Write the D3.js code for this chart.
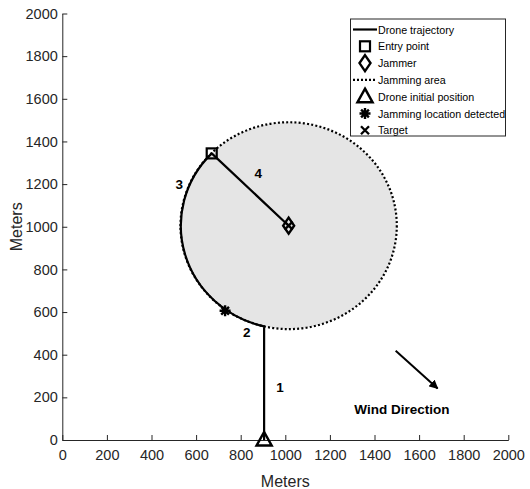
<!DOCTYPE html>
<html>
<head>
<meta charset="utf-8">
<script src="https://cdn.jsdelivr.net/npm/d3@7"></script>
<style>
  body { margin: 0; background: #fff; }
  svg { display: block; }
  text { font-family: "Liberation Sans", Arial, Helvetica, sans-serif; }
</style>
</head>
<body>
<svg id="chart" width="530" height="489"></svg>
<script>
// Axis ticks (meters)
const xTicks = [0, 200, 400, 600, 800, 1000, 1200, 1400, 1600, 1800, 2000];
const yTicks = [0, 200, 400, 600, 800, 1000, 1200, 1400, 1600, 1800, 2000];

// Scenario positions (meters)
const droneStart = [905, 0];
const jammerPos = [1015, 1005];
const targetPos = [1015, 1005];
const jamRadius = 485;
const entryPoint = [670, 1344];
const detectPoint = [730, 606];

// Segment numbers along the trajectory
const segmentLabels = [
  { text: "1", x: 976, y: 244 },
  { text: "2", x: 827, y: 503 },
  { text: "3", x: 525, y: 1199 },
  { text: "4", x: 879, y: 1250 }
];

// Wind arrow
const windFrom = [1495, 419];
const windTo = [1683, 242];
const windText = { text: "Wind Direction", x: 1523, y: 145 };

// Legend entries
const legendNames = [
  "Drone trajectory", "Entry point", "Jammer", "Jamming area",
  "Drone initial position", "Jamming location detected", "Target"
];
const legendKinds = ["line", "square", "diamond", "dotted", "triangle", "asterisk", "cross"];

const svg = d3.select("#chart");
const x = d3.scaleLinear().domain([0, 2000]).range([62.3, 508.3]);
const y = d3.scaleLinear().domain([0, 2000]).range([440, 13.5]);
const axisColor = "#262626";

// Jamming area (circle in meters, ellipse on screen)
const rx = x(jammerPos[0] + jamRadius) - x(jammerPos[0]);
const ry = y(jammerPos[1]) - y(jammerPos[1] + jamRadius);
svg.append("ellipse")
  .attr("cx", x(jammerPos[0])).attr("cy", y(jammerPos[1]))
  .attr("rx", rx).attr("ry", ry)
  .attr("fill", "#e5e5e5").attr("stroke", "none");
svg.append("ellipse")
  .attr("cx", x(jammerPos[0])).attr("cy", y(jammerPos[1]))
  .attr("rx", rx).attr("ry", ry)
  .attr("fill", "none").attr("stroke", "#000")
  .attr("stroke-width", 2.2).attr("stroke-dasharray", "2,2.2");

// Axes
const fmt = d3.format("d");
const xAxis = d3.axisBottom(x).tickValues(xTicks).tickFormat(fmt)
  .tickSizeInner(-5).tickSizeOuter(0).tickPadding(10);
const yAxis = d3.axisLeft(y).tickValues(yTicks).tickFormat(fmt)
  .tickSizeInner(-5).tickSizeOuter(0).tickPadding(4.5);
const gx = svg.append("g").attr("transform", `translate(0,${y(0)})`).call(xAxis);
const gy = svg.append("g").attr("transform", `translate(${x(0)},0)`).call(yAxis);
[gx, gy].forEach(g => {
  g.selectAll("path, line").attr("stroke", axisColor);
  g.selectAll("text").attr("fill", axisColor).style("font-size", "14.5px");
});

svg.append("text")
  .attr("x", (x(0) + x(2000)) / 2).attr("y", 481)
  .attr("text-anchor", "middle").attr("dominant-baseline", "central")
  .attr("fill", axisColor).style("font-size", "16px").text("Meters");
svg.append("text")
  .attr("transform", `translate(16,${(y(0) + y(2000)) / 2}) rotate(-90)`)
  .attr("text-anchor", "middle").attr("dominant-baseline", "central")
  .attr("fill", axisColor).style("font-size", "16px").text("Meters");

// Drone trajectory: climb to the area edge, follow the edge, then head to the jammer
const dxEdge = droneStart[0] - jammerPos[0];
const edgeY = jammerPos[1] - Math.sqrt(jamRadius * jamRadius - dxEdge * dxEdge);
const traj = d3.path();
traj.moveTo(x(droneStart[0]), y(droneStart[1]));
traj.lineTo(x(droneStart[0]), y(edgeY));
const trajD = traj.toString() +
  `A${rx},${ry} 0 0 1 ${x(entryPoint[0])},${y(entryPoint[1])}` +
  `L${x(jammerPos[0])},${y(jammerPos[1])}`;
svg.append("path").attr("d", trajD)
  .attr("fill", "none").attr("stroke", "#000").attr("stroke-width", 2.2)
  .attr("stroke-linejoin", "round");

// Marker drawing helpers
function drawMarker(g, kind, cx, cy) {
  const s = { fill: "none", stroke: "#000", "stroke-width": 2.2 };
  const apply = (el, o) => { Object.entries(o).forEach(([k, v]) => el.attr(k, v)); return el; };
  if (kind === "square") {
    apply(g.append("rect").attr("x", cx - 5).attr("y", cy - 5).attr("width", 10).attr("height", 10), s);
  } else if (kind === "diamond") {
    apply(g.append("path").attr("d", `M${cx},${cy - 8}L${cx + 5.5},${cy}L${cx},${cy + 8}L${cx - 5.5},${cy}Z`), s)
      .attr("stroke-width", 2.4);
  } else if (kind === "triangle") {
    apply(g.append("path").attr("d", `M${cx},${cy - 8}L${cx + 7.5},${cy + 5.5}L${cx - 7.5},${cy + 5.5}Z`), s)
      .attr("stroke-width", 2.5);
  } else if (kind === "asterisk") {
    const r = 5.5;
    const d = [0, 45, 90, 135].map(a => {
      const t = a * Math.PI / 180;
      return `M${cx - r * Math.cos(t)},${cy - r * Math.sin(t)}L${cx + r * Math.cos(t)},${cy + r * Math.sin(t)}`;
    }).join("");
    apply(g.append("path").attr("d", d), s).attr("stroke-width", 2.4);
  } else if (kind === "cross") {
    const r = 4;
    apply(g.append("path").attr("d", `M${cx - r},${cy - r}L${cx + r},${cy + r}M${cx - r},${cy + r}L${cx + r},${cy - r}`), s)
      .attr("stroke-width", 2.3);
  } else if (kind === "line") {
    apply(g.append("line").attr("x1", cx - 12).attr("x2", cx + 12).attr("y1", cy).attr("y2", cy), s);
  } else if (kind === "dotted") {
    apply(g.append("line").attr("x1", cx - 12).attr("x2", cx + 12).attr("y1", cy).attr("y2", cy), s)
      .attr("stroke-dasharray", "2,2");
  }
}

const marks = svg.append("g");
drawMarker(marks, "square", x(entryPoint[0]), y(entryPoint[1]));
drawMarker(marks, "diamond", x(jammerPos[0]), y(jammerPos[1]));
drawMarker(marks, "cross", x(targetPos[0]), y(targetPos[1]));
drawMarker(marks, "asterisk", x(detectPoint[0]), y(detectPoint[1]));
drawMarker(marks, "triangle", x(droneStart[0]), y(droneStart[1]));

// Segment numbers
svg.append("g").selectAll("text").data(segmentLabels).join("text")
  .attr("x", d => x(d.x)).attr("y", d => y(d.y))
  .attr("text-anchor", "middle").attr("dominant-baseline", "central")
  .style("font-size", "13.5px").style("font-weight", "bold")
  .text(d => d.text);

// Wind direction arrow
const defs = svg.append("defs");
defs.append("marker").attr("id", "arrowHead")
  .attr("viewBox", "0 0 10 10").attr("refX", 9).attr("refY", 5)
  .attr("markerWidth", 4.5).attr("markerHeight", 4.5).attr("orient", "auto")
  .append("path").attr("d", "M0,0L10,5L0,10Z").attr("fill", "#000");
svg.append("line")
  .attr("x1", x(windFrom[0])).attr("y1", y(windFrom[1]))
  .attr("x2", x(windTo[0])).attr("y2", y(windTo[1]))
  .attr("stroke", "#000").attr("stroke-width", 2)
  .attr("marker-end", "url(#arrowHead)");
svg.append("text")
  .attr("x", x(windText.x)).attr("y", y(windText.y))
  .attr("text-anchor", "middle").attr("dominant-baseline", "central")
  .style("font-size", "13.5px").style("font-weight", "bold")
  .text(windText.text);

// Legend
const legend = svg.append("g").attr("transform", "translate(350.5,19)");
legend.append("rect").attr("width", 155).attr("height", 117)
  .attr("fill", "#fff").attr("stroke", axisColor).attr("stroke-width", 1);
const rowY = i => 10.5 + i * 16.8;
legendKinds.forEach((k, i) => drawMarker(legend, k, 14.5, rowY(i)));
legend.selectAll("text.leg").data(legendNames).join("text")
  .attr("class", "leg")
  .attr("x", 27.5).attr("y", (d, i) => rowY(i))
  .attr("dominant-baseline", "central")
  .style("font-size", "10.7px").attr("fill", "#000")
  .text(d => d);
</script>
</body>
</html>
